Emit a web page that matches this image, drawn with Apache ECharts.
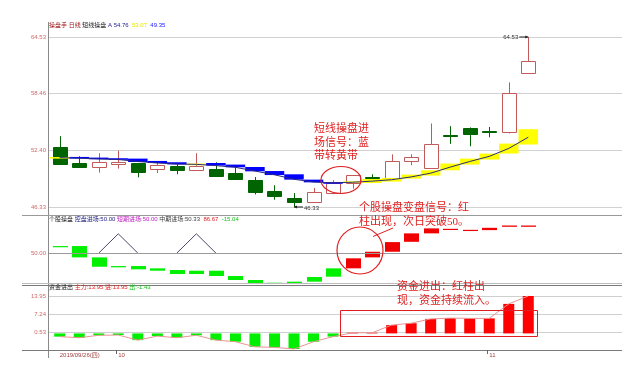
<!DOCTYPE html>
<html><head><meta charset="utf-8">
<script src="https://cdn.jsdelivr.net/npm/echarts@6/dist/echarts.min.js"></script>
<style>html,body{margin:0;padding:0;background:#fff}#c{width:641px;height:365px}</style>
</head><body><div id="c"></div>
<script>
// ---------- data ----------
var opens  = [52.73,51.01,50.66,50.93,51.01,50.44,50.72,50.26,50.37,49.97,49.19,48.04,47.33,46.86,47.83,48.90,49.54,49.48,51.26,50.55,54.01,54.84,54.48,54.37,60.63];
var closes = [50.93,50.61,51.15,51.15,50.08,50.84,50.26,50.69,49.69,49.33,47.93,47.54,46.86,47.98,48.90,49.72,49.45,51.26,51.69,53.12,53.90,54.12,54.40,58.49,61.95];
var lows   = [50.90,50.51,50.01,50.44,49.51,49.97,49.83,50.20,49.54,49.30,47.68,47.11,46.33,46.80,47.80,48.29,49.11,49.45,50.80,50.50,53.09,52.83,53.80,54.20,60.60];
var highs  = [53.91,51.76,52.08,52.37,51.05,51.04,50.98,52.09,51.12,50.61,49.54,48.65,47.82,48.37,49.19,49.75,49.83,51.97,51.97,55.27,54.98,54.85,54.90,59.67,64.53];
var bandTop = [51.68,51.69,51.62,51.55,51.51,51.26,51.12,50.98,51.04,50.87,50.61,50.18,49.83,49.26,48.99,49.08,49.33,49.43,49.80,50.26,50.98,51.51,52.05,53.12,54.66];
var bandBot = [51.62,51.55,51.47,51.41,51.15,51.04,50.90,50.92,50.76,50.58,50.15,49.75,49.26,48.97,48.92,48.93,48.90,49.05,49.37,49.69,50.26,50.87,51.41,52.05,53.02];
var bandSig = [1,0,0,0,0,0,0,1,0,0,0,0,0,0,0,1,1,1,1,1,1,1,1,1,1];
var maLine  = [51.62,51.55,51.47,51.41,51.20,51.04,50.92,50.90,50.76,50.58,50.18,49.78,49.30,49.00,48.92,48.98,49.10,49.25,49.55,49.95,50.60,51.20,51.75,52.60,53.80];
var oscHi  = [59.7,59.7,44.0,32.0,32.0,28.8,26.5,25.5,25.5,18.2,12.6,8.9,10.3,16.8,28.8,42.7,51.8,65.2,77.3,84.2,83.6,82.2,85.0,88.2,88.2];
var oscLo  = [58.3,44.0,31.0,30.2,27.4,25.5,20.9,20.9,18.2,12.6,8.0,8.0,7.5,10.3,17.2,28.8,44.0,51.8,65.6,77.3,82.2,80.9,81.8,86.4,86.4];
var oscSig = [0,0,0,0,0,0,0,0,0,0,0,0,0,0,0,1,1,1,1,1,1,1,1,1,1];
var trigLine = [null,null,50,76.7,50,null,50,76.7,50,null,null,null,null,null,null,null,null,null,null,null,null,null,null,null,null];
var flow = [-1.2,-1.6,-0.7,-0.6,-2.5,-1.0,-1.6,-0.7,-2.5,-3.1,-5.0,-5.2,-5.8,-3.1,-1.2,0.25,0.25,3.1,3.8,5.4,5.7,5.6,5.6,11.0,13.95];
var priceTicks = [46.33,52.40,58.46,64.53];
var flowTicks = [0.53,7.24,13.95];
var dateIdx = [0,3,22];
var dateText = ['2019/09/26(四)','10','11'];

// ---------- chart ----------
var chart = echarts.init(document.getElementById('c'), null, {renderer:'canvas'});
var L = 48, R = 19;
var FONT = "'Liberation Sans','Noto Sans CJK SC',sans-serif";
var CJK = "'Liberation Serif','Noto Sans CJK SC',serif";
function xAx(g){ return {type:'value', gridIndex:g, min:-0.6, max:28.8, show:false}; }

function renderCandle(params, api){
  var i=api.value(0), o=api.value(1), c=api.value(2), lo=api.value(3), hi=api.value(4);
  var w=Math.round(api.size([1,0])[0]*0.72);
  var cx=Math.round(api.coord([i,o])[0])+0.5;
  var yO=api.coord([i,o])[1], yC=api.coord([i,c])[1], yL=api.coord([i,lo])[1], yH=api.coord([i,hi])[1];
  var up=c>=o, col=up?'#c25a5a':'#006400';
  var top=Math.round(Math.min(yO,yC))+0.5, bot=Math.round(Math.max(yO,yC))+0.5;
  if(bot-top<1) bot=top+1;
  return {type:'group', children:[
    {type:'line', shape:{x1:cx,y1:yH,x2:cx,y2:top}, style:{stroke:col,lineWidth:1}},
    {type:'line', shape:{x1:cx,y1:bot,x2:cx,y2:yL}, style:{stroke:col,lineWidth:1}},
    {type:'rect', shape:{x:cx-w/2,y:top,width:w,height:bot-top}, style:up?{fill:'#ffffff',stroke:col,lineWidth:1}:{fill:col,stroke:col,lineWidth:1}}
  ]};
}
function renderBand(params, api){
  var i=api.value(0), t=api.value(1), b=api.value(2), s=api.value(3);
  var p1=api.coord([i-0.5,t]), p2=api.coord([i+0.5,b]);
  var h=Math.max(p2[1]-p1[1],1.6);
  return {type:'rect', shape:{x:p1[0],y:p1[1],width:p2[0]-p1[0],height:h}, style:{fill:s?'#ffff00':'#0000ff'}};
}
function renderOsc(params, api){
  var i=api.value(0), hv=api.value(1), lv=api.value(2), s=api.value(3);
  var p1=api.coord([i,hv]), p2=api.coord([i,lv]);
  var w=15, h=Math.max(p2[1]-p1[1],1.2);
  return {type:'rect', shape:{x:Math.round(p1[0])-7,y:p1[1],width:w,height:h}, style:{fill:s?'#f00000':'#00f000'}};
}

var option = {
  animation:false,
  backgroundColor:'#ffffff',
  grid:[
    {left:L,right:R,top:37,height:170},
    {left:L,right:R,top:217,height:68.5},
    {left:L,right:R,top:285,height:65}
  ],
  xAxis:[xAx(0),xAx(1),xAx(2)],
  yAxis:[
    {type:'value',gridIndex:0,min:priceTicks[0],max:priceTicks[3],interval:(priceTicks[3]-priceTicks[0])/3,
     axisLine:{show:false},axisTick:{show:false},
     axisLabel:{fontSize:6,fontFamily:FONT,color:'#d06868',margin:2,formatter:function(v){return v.toFixed(2);}},
     splitLine:{lineStyle:{color:'#d2d2d2',width:1}}},
    {type:'value',gridIndex:1,min:5,max:100,interval:45,
     axisLine:{show:false},axisTick:{show:false},
     axisLabel:{fontSize:6,fontFamily:FONT,color:'#d06868',margin:2,formatter:function(v){return Math.abs(v-50)<1e-6?'50.00':'';}},
     splitLine:{show:false}},
    {type:'value',gridIndex:2,min:flowTicks[0]-(flowTicks[1]-flowTicks[0]),max:18.04,interval:flowTicks[1]-flowTicks[0],
     axisLine:{show:false},axisTick:{show:false},
     axisLabel:{fontSize:6,fontFamily:FONT,color:'#d06868',margin:2,showMinLabel:false,showMaxLabel:false,formatter:function(v){return v.toFixed(2);}},
     splitLine:{lineStyle:{color:'#cfcfcf',width:1}}}
  ],
  series:[
    {type:'custom',xAxisIndex:0,yAxisIndex:0,z:2,renderItem:renderCandle,
     data:opens.map(function(o,i){return [i,o,closes[i],lows[i],highs[i]];})},
    {type:'custom',xAxisIndex:0,yAxisIndex:0,z:3,renderItem:renderBand,
     data:bandTop.map(function(t,i){return [i,t,bandBot[i],bandSig[i]];})},
    {type:'line',xAxisIndex:0,yAxisIndex:0,z:4,symbol:'none',lineStyle:{color:'#2a2a80',width:1},
     data:maLine.map(function(v,i){return [i,v];})},
    {type:'custom',xAxisIndex:1,yAxisIndex:1,z:3,renderItem:renderOsc,
     data:oscHi.map(function(h,i){return [i,h,oscLo[i],oscSig[i]];})},
    {type:'line',xAxisIndex:1,yAxisIndex:1,z:2,symbol:'none',lineStyle:{color:'#4a4a6c',width:1},
     data:trigLine.map(function(v,i){return [i,v==null?'-':v];}),
     markLine:{silent:true,symbol:'none',label:{show:false},lineStyle:{color:'#9a9a9a',type:'solid',width:1},data:[{yAxis:50}]}},
    {type:'bar',xAxisIndex:2,yAxisIndex:2,z:2,barWidth:11,
     itemStyle:{color:function(p){return p.value[1]>=0?'#ff0000':'#00ee00';}},
     data:flow.map(function(v,i){return [i,v];})},
    {type:'line',xAxisIndex:2,yAxisIndex:2,z:3,symbol:'none',lineStyle:{color:'#e89494',width:1},
     data:flow.map(function(v,i){return [i,v];})}
  ]
};
chart.setOption(option);

// ---------- decorations ----------
var g = [];
function hline(y,x1,x2,col){ g.push({type:'line',silent:true,z:10,shape:{x1:x1,y1:y,x2:x2,y2:y},style:{stroke:col,lineWidth:1}}); }
g.push({type:'line',silent:true,z:10,shape:{x1:48.5,y1:22,x2:48.5,y2:358},style:{stroke:'#8a8a8a',lineWidth:1}});
hline(215.5,22,622,'#9a9a9a');
hline(283.5,22,622,'#bdbdbd');
hline(285.5,22,622,'#7a7a7a');
hline(350.5,22,622,'#7a7a7a');

function rt(x,y,text,rich){ g.push({type:'text',silent:true,z:20,x:x,y:y,style:{text:text,rich:rich,fontSize:6,fontFamily:FONT,verticalAlign:'middle',align:'left'}}); }
rt(49,25,'{a|操盘手} {a|日线} {b|短线操盘} {c|A 54.76}  {d|53.07}  {e|49.35}',
  {a:{fill:'#9a1010',fontSize:6,fontFamily:FONT},b:{fill:'#202020',fontSize:6,fontFamily:FONT},c:{fill:'#1a1a90',fontSize:6,fontFamily:FONT},d:{fill:'#e6e600',fontSize:6,fontFamily:FONT},e:{fill:'#2020ff',fontSize:6,fontFamily:FONT}});
rt(49,219,'{a|个股操盘} {b|控盘进场:50.00} {c|短期进场:50.00} {d|中期进场:50.33}  {e|86.67}  {f|-15.04}',
  {a:{fill:'#202020',fontSize:6,fontFamily:FONT},b:{fill:'#1a1a80',fontSize:6,fontFamily:FONT},c:{fill:'#c020c0',fontSize:6,fontFamily:FONT},d:{fill:'#404040',fontSize:6,fontFamily:FONT},e:{fill:'#e02020',fontSize:6,fontFamily:FONT},f:{fill:'#10c010',fontSize:6,fontFamily:FONT}});
rt(49,287,'{a|资金进出} {b|主力:13.95} {b|进:13.95} {c|出:-1.43}',
  {a:{fill:'#202020',fontSize:6,fontFamily:FONT},b:{fill:'#e02020',fontSize:6,fontFamily:FONT},c:{fill:'#10c010',fontSize:6,fontFamily:FONT}});

// high / low markers
var pLow = chart.convertToPixel({xAxisIndex:0,yAxisIndex:0},[12,lows[12]]);
var pHigh = chart.convertToPixel({xAxisIndex:0,yAxisIndex:0},[24,highs[24]]);
g.push({type:'line',silent:true,z:20,shape:{x1:pLow[0],y1:pLow[1],x2:pLow[0]+9,y2:pLow[1]},style:{stroke:'#222',lineWidth:1}});
g.push({type:'polygon',silent:true,z:20,shape:{points:[[pLow[0],pLow[1]],[pLow[0]+3,pLow[1]-1.5],[pLow[0]+3,pLow[1]+1.5]]},style:{fill:'#222'}});
g.push({type:'text',silent:true,z:20,x:pLow[0]+10,y:pLow[1]+1,style:{text:lows[12].toFixed(2),fill:'#333',fontSize:6,fontFamily:FONT,verticalAlign:'middle'}});
g.push({type:'line',silent:true,z:20,shape:{x1:pHigh[0]-9,y1:pHigh[1],x2:pHigh[0],y2:pHigh[1]},style:{stroke:'#222',lineWidth:1}});
g.push({type:'polygon',silent:true,z:20,shape:{points:[[pHigh[0],pHigh[1]],[pHigh[0]-3,pHigh[1]-1.5],[pHigh[0]-3,pHigh[1]+1.5]]},style:{fill:'#222'}});
g.push({type:'text',silent:true,z:20,x:pHigh[0]-10,y:pHigh[1],style:{text:highs[24].toFixed(2),fill:'#333',fontSize:6,fontFamily:FONT,verticalAlign:'middle',align:'right'}});

// date labels
dateIdx.forEach(function(idx,k){
  var px = chart.convertToPixel({xAxisIndex:2}, idx);
  if(k>0){ g.push({type:'line',silent:true,z:20,shape:{x1:Math.round(px)-1.5,y1:350,x2:Math.round(px)-1.5,y2:354},style:{stroke:'#666',lineWidth:1}}); }
  g.push({type:'text',silent:true,z:20,x:px,y:355,style:{text:dateText[k],fill:'#a04040',fontSize:6,fontFamily:FONT,verticalAlign:'middle',align:'left'}});
});

// annotations
var RED='#e02020';
g.push({type:'text',silent:true,z:30,x:314,y:122.5,style:{text:'短线操盘进\n场信号：蓝\n带转黄带',fill:RED,fontSize:11,fontFamily:CJK,lineHeight:13.5,verticalAlign:'top'}});
g.push({type:'ellipse',silent:true,z:30,shape:{cx:341,cy:180,rx:20,ry:13.5},style:{fill:'none',stroke:RED,lineWidth:1.2}});
g.push({type:'text',silent:true,z:30,x:359,y:200.5,style:{text:'个股操盘变盘信号：红\n柱出现，次日突破50。',fill:RED,fontSize:11,fontFamily:CJK,lineHeight:14.5,verticalAlign:'top'}});
g.push({type:'ellipse',silent:true,z:30,shape:{cx:360,cy:250.5,rx:23,ry:23.5},style:{fill:'none',stroke:RED,lineWidth:1.2}});
g.push({type:'line',silent:true,z:30,shape:{x1:373,y1:236.5,x2:393,y2:228},style:{stroke:RED,lineWidth:1}});
g.push({type:'text',silent:true,z:30,x:397,y:280,style:{text:'资金进出：红柱出\n现，资金持续流入。',fill:RED,fontSize:11,fontFamily:CJK,lineHeight:14,verticalAlign:'top'}});
g.push({type:'rect',silent:true,z:30,shape:{x:340.5,y:310.5,width:197,height:26},style:{fill:'none',stroke:RED,lineWidth:1}});

chart.setOption({graphic:g});
</script>
</body></html>
